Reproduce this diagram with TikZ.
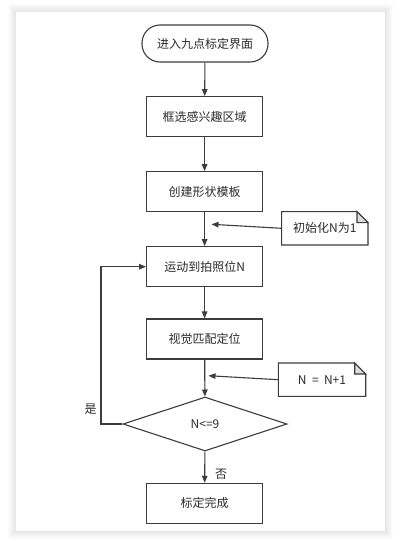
\documentclass[tikz,border=0pt]{standalone}
\usepackage{fontspec}
\setmainfont{Noto Sans CJK SC}
\usetikzlibrary{shapes.geometric,arrows.meta}
\definecolor{ln}{HTML}{3C3C3C}
\definecolor{tx}{HTML}{2A2A2A}
\definecolor{fold}{HTML}{DDDDDD}
\begin{document}
\begin{tikzpicture}[x=1pt,y=-1pt,
  font=\fontsize{12}{14}\selectfont, text=tx,
  box/.style={draw=ln, line width=1.1pt, rectangle, minimum width=116pt, minimum height=40pt, inner sep=0pt},
  term/.style={draw=ln, line width=1.1pt, rectangle, rounded corners=18pt, minimum width=126pt, minimum height=37pt, inner sep=0pt},
  dec/.style={draw=ln, line width=1.1pt, diamond, minimum width=164pt, minimum height=54pt, inner sep=0pt, aspect=3},
  notebox/.style={rectangle, minimum width=86pt, minimum height=33pt, inner sep=0pt},
  arr/.style={draw=ln, line width=1.1pt, -{Triangle[length=7pt,width=5.5pt]}},
  lbl/.style={inner sep=0pt}
]
\useasboundingbox (0,0) rectangle (404,541);
\fill[white] (0,0) rectangle (404,541);
% card shadow
\foreach \i in {1,...,8}{
  \fill[black, opacity=0.011] (16-\i,12-\i) rectangle (385+\i,531+\i);
}
\fill[white] (16,12) rectangle (385,531);

\node[term] (s) at (205,43.5) {进入九点标定界面};
\node[box] (b2) at (204.6,116.7) {框选感兴趣区域};
\node[box] (b3) at (204.6,191.7) {创建形状模板};
\node[box] (b4) at (204.6,266.7) {运动到拍照位N};
\node[box] (b5) at (204.6,339) {视觉匹配定位};
\node[dec] (d) at (205,424) {N<=9};
\node[box] (b6) at (204.6,503.3) {标定完成};

\node[notebox] (n1) at (324.8,228.3) {初始化N为1};
\node[notebox, minimum width=87pt] (n2) at (322,379.7) {N\ \ =\ \ N+1};
\foreach \n in {n1,n2}{
  \draw[ln, line width=1.1pt, line join=miter]
    (\n.north west) -- ([xshift=-11pt]\n.north east) -- ([yshift=-11pt]\n.north east) -- (\n.south east) -- (\n.south west) -- cycle;
  \filldraw[fill=fold, draw=ln, line width=1.1pt]
    ([xshift=-11pt]\n.north east) -- ([xshift=-11pt,yshift=-11pt]\n.north east) -- ([yshift=-11pt]\n.north east) -- cycle;
}

\coordinate (c1) at (211.5,224.3);
\coordinate (c2) at (208.5,375.7);
\coordinate (lp) at (101,424);

\draw[arr] (s) -- (b2);
\draw[arr] (b2) -- (b3);
\draw[arr] (b3) -- (b4);
\draw[arr] (b4) -- (b5);
\draw[arr] (b5) -- (d);
\draw[arr] (d) -- (b6);
\draw[arr] (n1.west) -- (c1);
\draw[arr] (n2.west) -- (c2);
\draw[arr] (d.west) -- (lp) |- (b4.west);

\node[lbl] (yes) at (90.7,409) {是};
\node[lbl] (no) at (221,474) {否};
\end{tikzpicture}
\end{document}
